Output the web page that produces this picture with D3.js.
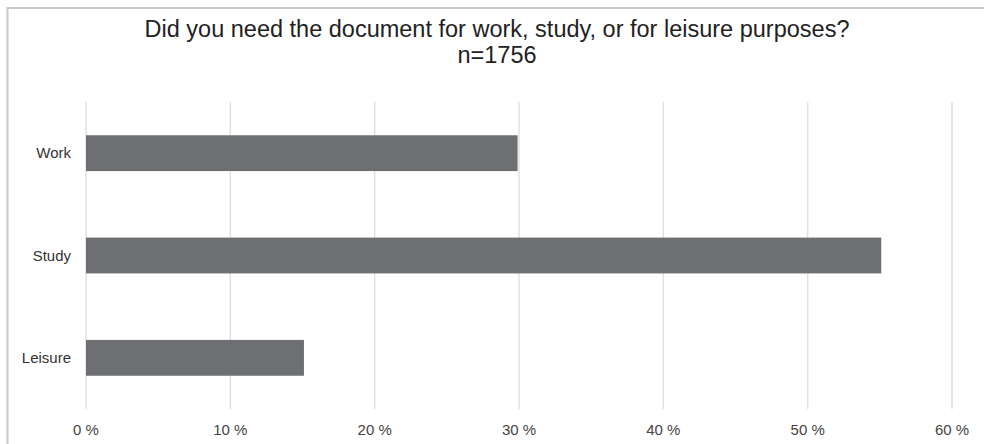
<!DOCTYPE html>
<html><head><meta charset="utf-8">
<script src="https://cdn.jsdelivr.net/npm/d3@7"></script>
<style>body{margin:0;background:#fff;} svg{display:block;}</style>
</head><body>
<script>
const categories = ["Work", "Study", "Leisure"];
const values = [29.9, 55.1, 15.1];
const ticks = [0, 10, 20, 30, 40, 50, 60];
const titleLines = ["Did you need the document for work, study, or for leisure purposes?", "n=1756"];

const W = 984, H = 444;
const svg = d3.select("body").append("svg").attr("width", W).attr("height", H);
svg.append("rect").attr("x", 7.5).attr("y", 8).attr("width", 1000).attr("height", 500)
  .attr("fill", "#fff").attr("stroke", "#c8c8c8").attr("stroke-width", 2);

const x = d3.scaleLinear().domain([0, 60]).range([86, 952]);
const y = d3.scaleBand().domain(categories).range([102, 409]).paddingInner(0.65).paddingOuter(0.325);

svg.append("g").selectAll("line").data(ticks).join("line")
  .attr("x1", d => x(d)).attr("x2", d => x(d)).attr("y1", 102).attr("y2", 409)
  .attr("stroke", "#e0e0e0").attr("stroke-width", 1.5);

svg.append("g").selectAll("text").data(ticks).join("text")
  .attr("x", d => x(d)).attr("y", 435).attr("text-anchor", "middle")
  .attr("font-family", "Liberation Sans, Arial, sans-serif").attr("font-size", 15).attr("fill", "#444")
  .text(d => d + " %");

svg.append("g").selectAll("rect").data(values).join("rect")
  .attr("x", x(0)).attr("y", (d, i) => y(categories[i]))
  .attr("width", d => x(d) - x(0)).attr("height", y.bandwidth())
  .attr("fill", "#6e6f72");

svg.append("g").selectAll("text").data(categories).join("text")
  .attr("x", 71).attr("y", d => y(d) + y.bandwidth() / 2).attr("dy", "0.35em")
  .attr("text-anchor", "end")
  .attr("font-family", "Liberation Sans, Arial, sans-serif").attr("font-size", 15).attr("fill", "#333")
  .text(d => d);

svg.append("g").selectAll("text").data(titleLines).join("text")
  .attr("x", 497).attr("y", (d, i) => 37 + i * 26).attr("text-anchor", "middle")
  .attr("font-family", "Liberation Sans, Arial, sans-serif").attr("font-size", 23.5).attr("fill", "#222")
  .text(d => d);
</script>
</body></html>
